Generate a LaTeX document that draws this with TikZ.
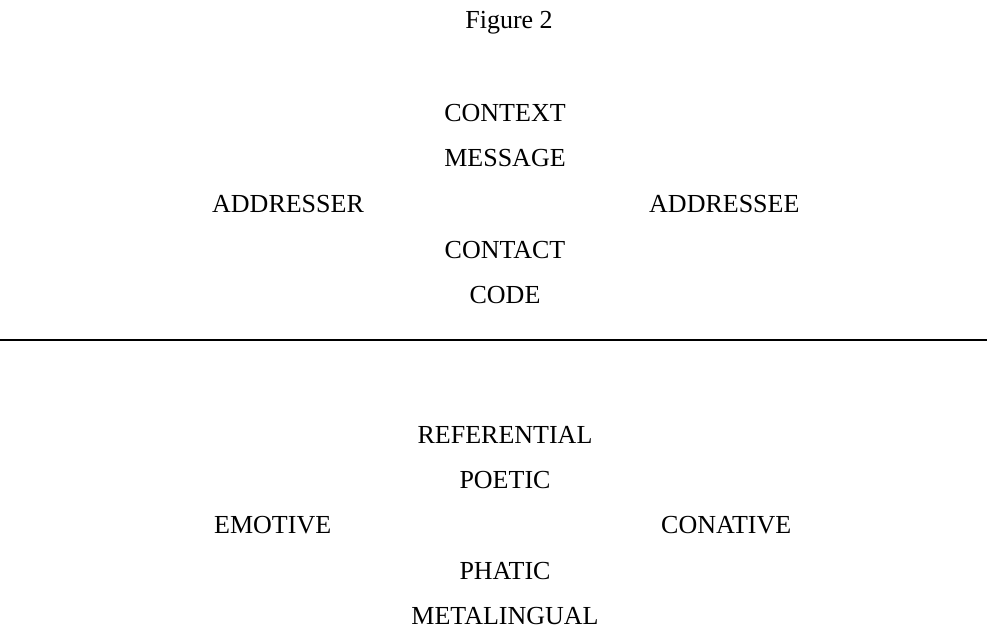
\documentclass[tikz,border=0pt]{standalone}
\usepackage{fontspec}
\setmainfont{Liberation Serif}
\begin{document}
\begin{tikzpicture}[x=1pt,y=-1pt,
  lbl/.style={inner sep=0pt,font=\fontsize{26}{30}\selectfont}]
\useasboundingbox (0,0) rectangle (987,631);
\node[lbl,anchor=base] (fig) at (509,29) {Figure 2};
\node[lbl,anchor=base] (context) at (505,122) {CONTEXT};
\node[lbl,anchor=base] (message) at (505,167) {MESSAGE};
\node[lbl,anchor=base west] (addresser) at (212,212) {ADDRESSER};
\node[lbl,anchor=base west] (addressee) at (649,212) {ADDRESSEE};
\node[lbl,anchor=base] (contact) at (505,258) {CONTACT};
\node[lbl,anchor=base] (code) at (505,303) {CODE};
\coordinate (ruleL) at (0,340);
\coordinate (ruleR) at (987,340);
\draw[line width=1.2pt] (ruleL) -- (ruleR);
\node[lbl,anchor=base] (referential) at (505,443) {REFERENTIAL};
\node[lbl,anchor=base] (poetic) at (505,488) {POETIC};
\node[lbl,anchor=base west] (emotive) at (214,533) {EMOTIVE};
\node[lbl,anchor=base west] (conative) at (661,533) {CONATIVE};
\node[lbl,anchor=base] (phatic) at (505,579) {PHATIC};
\node[lbl,anchor=base] (metalingual) at (505,624) {METALINGUAL};
\end{tikzpicture}
\end{document}
